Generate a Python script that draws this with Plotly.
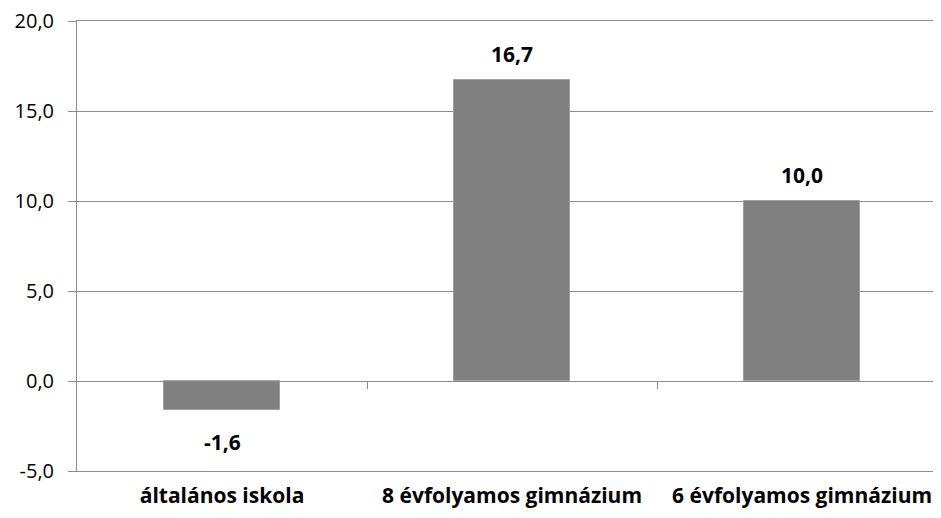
import plotly.graph_objects as go

categories = ["általános iskola", "8 évfolyamos gimnázium", "6 évfolyamos gimnázium"]
values = [-1.6, 16.7, 10.0]
value_labels = ["-1,6", "16,7", "10,0"]
y_ticks = [-5, 0, 5, 10, 15, 20]
y_tick_labels = ["-5,0", "0,0", "5,0", "10,0", "15,0", "20,0"]

FONT = "Open Sans"
GRID = "#8c8c8c"
xpos = list(range(len(categories)))
xrange = [-0.5, 2.479]
yrange = [-5, 20]

fig = go.Figure()
fig.add_trace(go.Bar(
    x=xpos, y=values, width=0.4,
    marker=dict(color="#808080", line=dict(color="#a0a0a0", width=1)),
    showlegend=False, hoverinfo="skip",
))
# invisible trace to bind the zero-line axis
fig.add_trace(go.Scatter(x=[xpos[0]], y=[0], xaxis="x2", mode="markers",
                         marker=dict(opacity=0), showlegend=False, hoverinfo="skip"))

for xi, v, lab in zip(xpos, values, value_labels):
    fig.add_annotation(
        x=xi, y=v, text="<b>%s</b>" % lab, showarrow=False,
        yanchor="bottom" if v >= 0 else "top",
        yshift=10 if v >= 0 else -16,
        font=dict(family=FONT, size=21, color="#000000"),
    )

fig.update_layout(
    width=941, height=518,
    margin=dict(l=69, r=8, t=13, b=55, autoexpand=False),
    paper_bgcolor="white", plot_bgcolor="white",
    bargap=0,
    xaxis=dict(
        range=xrange, tickvals=xpos,
        ticktext=["<b>%s</b>" % c for c in categories],
        tickfont=dict(family=FONT, size=21, color="#000000"),
        showgrid=False, zeroline=False,
        showline=True, mirror=True, linecolor=GRID, linewidth=1,
        ticks="", ticklabelstandoff=6, automargin=False,
        ticklabeloverflow="allow",
    ),
    xaxis2=dict(
        range=xrange, overlaying="x", anchor="free",
        position=(0 - yrange[0]) / (yrange[1] - yrange[0]),
        tickvals=[0.5, 1.5], showticklabels=False,
        ticks="outside", ticklen=7, tickcolor=GRID, tickwidth=1,
        showline=True, linecolor=GRID, linewidth=1,
        showgrid=False, zeroline=False, automargin=False,
    ),
    yaxis=dict(
        range=yrange, tickvals=y_ticks, ticktext=y_tick_labels,
        tickfont=dict(family=FONT, size=20, color="#000000"),
        showgrid=True, gridcolor=GRID, gridwidth=1,
        zeroline=False, showline=True, linecolor=GRID, linewidth=1,
        ticks="outside", ticklen=8, tickcolor=GRID,
        ticklabelstandoff=10, automargin=False,
        ticklabeloverflow="allow",
    ),
)

fig.write_html("out.html")
